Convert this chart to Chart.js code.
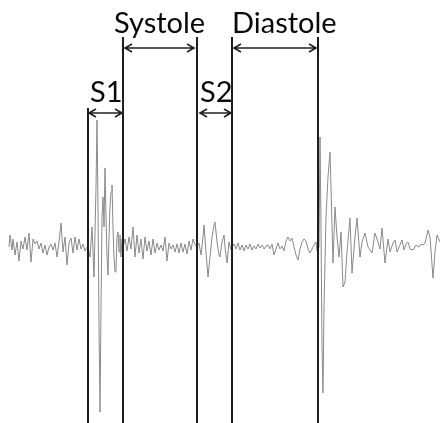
<!DOCTYPE html>
<html>
<head>
<meta charset="utf-8">
<script src="https://cdn.jsdelivr.net/npm/chart.js@4.4.1/dist/chart.umd.min.js"></script>
<style>
  html, body { margin: 0; padding: 0; background: #ffffff; }
  #wrap { width: 440px; height: 423px; }
</style>
</head>
<body>
<div id="wrap"><canvas id="c" width="440" height="423"></canvas></div>
<script>
// ---- Data (sample index, amplitude) ----
const preS1 = [[9,0],[10,12],[12,-3],[13,8],[15,-8],[17,5],[19,-14],[21,6],[23,-2],[25,10],[27,-3],[29,14],[31,-15],[33,8],[35,3],[37,6],[39,-2],[41,4],[43,-6],[45,2],[47,-8],[49,0],[51,3],[53,-3],[55,4],[57,-10],[59,5],[61,24],[63,-5],[65,10],[67,-18],[69,4],[71,9],[73,-6],[75,10],[77,-3],[79,8],[81,-2],[83,3],[85,-4],[87,0]];
const s1Burst = [[88,0],[90,-10],[92,20],[94,-30],[96,60],[97,127],[98,40],[99,-80],[100,-165],[101,-60],[102,30],[103,50],[104,20],[105,79],[106,30],[107,-10],[108,-28],[109,10],[110,40],[111,55],[112,62],[113,20],[114,-10],[115,-25],[116,-22],[117,10],[118,15],[119,-5],[120,12],[121,-10],[122,8]];
const systole = [[123,0],[125,8],[127,-4],[129,10],[131,-2],[133,20],[135,-10],[137,12],[139,-6],[141,8],[143,-12],[145,10],[147,-4],[149,6],[151,-8],[153,8],[155,-6],[157,4],[159,-3],[161,2],[163,-4],[165,10],[167,-14],[169,4],[171,-2],[173,2],[175,-5],[177,3],[179,-6],[181,4],[183,-5],[185,3],[187,-7],[189,6],[191,-3],[193,8],[195,2]];
const s2Burst = [[197,0],[199,4],[201,-8],[203,10],[204,22],[206,-5],[208,-30],[210,-10],[212,10],[214,22],[215,25],[217,5],[219,-8],[220,-10],[222,5],[224,12],[225,0],[227,-16],[229,5],[231,-3]];
const diastole = [[232,0],[234,3],[236,-2],[238,4],[240,-3],[242,2],[244,-4],[246,2],[248,-2],[250,3],[252,-3],[254,1],[256,-2],[258,3],[260,-1],[262,2],[264,-2],[266,1],[268,2],[270,-2],[272,3],[274,-8],[276,-2],[278,4],[280,-2],[282,1],[284,-4],[286,6],[288,10],[290,6],[292,9],[294,0],[296,-8],[298,-13],[300,-2],[302,5],[304,8],[306,6],[308,-2],[310,-6],[312,-2],[314,2],[316,5],[317,-4]];
const nextS1 = [[319,0],[320,110],[321,20],[322,-100],[323,-146],[324,-60],[326,30],[328,70],[330,95],[331,60],[333,-16],[335,40],[337,10],[339,-10],[341,15],[343,-40],[345,-35],[347,-5],[350,29],[352,-26],[355,10],[357,29],[360,-10],[362,5],[365,14],[368,0],[372,-6],[375,14],[378,5],[380,-2],[382,19],[385,-16],[388,8],[390,-5],[393,4],[395,7],[397,-5],[400,2],[402,7],[404,-3],[406,3],[408,5],[410,-2],[413,-3],[416,2],[419,0],[421,3],[423,2],[425,4],[428,17],[430,10],[433,-31],[435,-5],[437,12],[440,5]];

// Phase boundaries (sample index)
const boundaries = [88, 123, 197, 232, 318];
// Phase labels: [text, startBoundaryIndex, endBoundaryIndex]
const phases = [["S1", 0, 1], ["Systole", 1, 2], ["S2", 2, 3], ["Diastole", 3, 4]];

const signal = [].concat(preS1, s1Burst, systole, s2Burst, diastole, nextS1).map(p => ({x: p[0], y: p[1]}));

const phasePlugin = {
  id: 'phases',
  afterDatasetsDraw(chart, args, opts) {
    const ctx = chart.ctx;
    const xs = chart.scales.x;
    const px = v => xs.getPixelForValue(v);
    const bottom = chart.height;
    ctx.save();
    // vertical lines
    ctx.strokeStyle = '#1e1e1e';
    ctx.lineWidth = 2;
    boundaries.forEach((b, i) => {
      const x = Math.round(px(b)) ;
      ctx.beginPath();
      ctx.moveTo(x, opts.lineTops[i]);
      ctx.lineTo(x, bottom);
      ctx.stroke();
    });
    // arrows and labels
    ctx.font = opts.font;
    ctx.fillStyle = '#0a0a0a';
    ctx.textBaseline = 'alphabetic';
    phases.forEach((ph, i) => {
      const x1 = Math.round(px(boundaries[ph[1]]));
      const x2 = Math.round(px(boundaries[ph[2]]));
      const ay = opts.arrowY[i];
      const a = x1 + opts.arrowInset[i][0];
      const b = x2 - opts.arrowInset[i][1];
      ctx.strokeStyle = '#222222';
      ctx.lineWidth = 1.6;
      ctx.beginPath();
      ctx.moveTo(a, ay); ctx.lineTo(b, ay);
      ctx.moveTo(a + 7, ay - 4); ctx.lineTo(a, ay); ctx.lineTo(a + 7, ay + 4);
      ctx.moveTo(b - 7, ay - 4); ctx.lineTo(b, ay); ctx.lineTo(b - 7, ay + 4);
      ctx.stroke();
      ctx.fillText(ph[0], x1 + opts.labelDx[i], opts.labelY[i]);
    });
    ctx.restore();
  }
};

new Chart(document.getElementById('c'), {
  type: 'line',
  data: {
    datasets: [{
      data: signal,
      borderColor: '#8a8a8a',
      borderWidth: 1,
      pointRadius: 0,
      tension: 0,
      fill: false
    }]
  },
  options: {
    responsive: false,
    animation: false,
    events: [],
    layout: { padding: 0 },
    plugins: {
      legend: { display: false },
      tooltip: { enabled: false },
      phases: {
        lineTops: [108, 37, 37, 37, 37],
        arrowY: [113, 48, 113, 48],
        arrowInset: [[1, 1], [2, 3], [3, 1], [2, 2]],
        labelDx: [2, -9, 3, 0],
        labelY: [102, 33, 102, 33],
        font: '29px Lato'
      }
    },
    scales: {
      x: { type: 'linear', min: 0, max: 440, display: false },
      y: { type: 'linear', min: -176, max: 247, display: false }
    }
  },
  plugins: [phasePlugin]
});
</script>
</body>
</html>
